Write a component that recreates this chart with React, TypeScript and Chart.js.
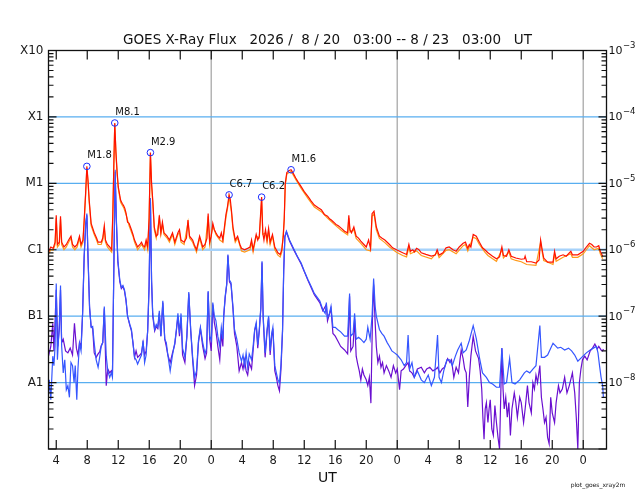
import { useEffect, useRef } from "react";
import { Chart, registerables } from "chart.js";

Chart.register(...registerables);

// time axis: hours since 2026/8/20 03:00 UT
const START_HOUR = 3;
const SPAN_HOURS = 72;
const hourTicks = [1, 5, 9, 13, 17, 21, 25, 29, 33, 37, 41, 45, 49, 53, 57, 61, 65, 69];
const dayBoundaryHours = [21, 45, 69];

const decadeTicks = [1e-9, 1e-8, 1e-7, 1e-6, 1e-5, 1e-4, 1e-3];
const classLabels = ["", "A1", "B1", "C1", "M1", "X1", "X10"];
const exponentLabels = ["", "-8", "-7", "-6", "-5", "-4", "-3"];
const classLines = [1e-8, 1e-7, 1e-6, 1e-5, 1e-4];

const titleText = "GOES X-Ray Flux   2026 /  8 / 20   03:00 -- 8 / 23   03:00   UT";

// [hour, W/m^2] long channel (1-8 A), primary
const longPrimary: [number, number][] = [
  [0.0, 9.3e-7], [0.3, 1.1e-6], [0.6, 1.05e-6], [0.85, 1.3e-6], [1.0, 3.3e-6], [1.15, 1.2e-6], [1.4, 1.3e-6], [1.55, 3.2e-6], [1.7, 1.3e-6], [2.0, 1.1e-6],
  [2.3, 1.2e-6], [2.6, 1.4e-6], [2.9, 1.6e-6], [3.1, 1.2e-6], [3.4, 1.1e-6], [3.7, 1.2e-6], [4.0, 1.6e-6], [4.2, 1.2e-6], [4.45, 1.4e-6], [4.62, 3.0e-6],
  [4.8, 7.5e-6], [4.95, 1.8e-5], [5.1, 1.1e-5], [5.25, 5.6e-6], [5.5, 2.5e-6], [5.9, 1.8e-6], [6.2, 1.5e-6], [6.4, 1.3e-6], [6.8, 1.3e-6], [7.0, 1.5e-6],
  [7.2, 2.3e-6], [7.35, 1.4e-6], [7.6, 1.2e-6], [7.9, 1.1e-6], [8.15, 1.0e-6], [8.3, 3.5e-6], [8.45, 2.5e-5], [8.55, 8.1e-5], [8.7, 3.0e-5], [8.85, 1.5e-5],
  [9.0, 8.9e-6], [9.3, 5.6e-6], [9.5, 5.0e-6], [9.7, 4.6e-6], [9.85, 4.2e-6], [10.0, 3.6e-6], [10.2, 2.6e-6], [10.4, 2.5e-6], [10.7, 2.0e-6], [10.9, 1.7e-6],
  [11.1, 1.4e-6], [11.5, 1.1e-6], [11.8, 1.2e-6], [12.0, 1.3e-6], [12.2, 1.15e-6], [12.4, 1.1e-6], [12.6, 1.4e-6], [12.8, 1.1e-6], [12.98, 3.0e-6], [13.15, 2.9e-5],
  [13.3, 1.0e-5], [13.45, 5.6e-6], [13.65, 2.2e-6], [13.9, 1.6e-6], [14.1, 1.7e-6], [14.3, 3.3e-6], [14.5, 1.8e-6], [14.7, 2.6e-6], [14.9, 1.8e-6], [15.1, 1.7e-6],
  [15.3, 1.6e-6], [15.6, 1.4e-6], [16.0, 1.8e-6], [16.3, 1.3e-6], [16.7, 1.8e-6], [16.9, 2.0e-6], [17.1, 1.4e-6], [17.5, 1.3e-6], [17.8, 1.5e-6], [18.0, 2.8e-6],
  [18.2, 1.6e-6], [18.6, 1.4e-6], [18.8, 1.2e-6], [19.1, 1.0e-6], [19.5, 1.6e-6], [19.9, 1.1e-6], [20.2, 1.2e-6], [20.45, 1.5e-6], [20.6, 3.5e-6], [20.8, 1.3e-6],
  [21.0, 1.6e-6], [21.2, 2.5e-6], [21.4, 2.0e-6], [21.6, 1.8e-6], [21.85, 1.6e-6], [22.1, 1.5e-6], [22.3, 1.8e-6], [22.5, 1.4e-6], [22.7, 2.2e-6], [22.9, 3.4e-6],
  [23.1, 4.5e-6], [23.3, 6.7e-6], [23.45, 5.8e-6], [23.6, 4.0e-6], [23.8, 2.2e-6], [24.1, 1.4e-6], [24.4, 1.6e-6], [24.7, 1.2e-6], [24.9, 1.05e-6], [25.3, 1.0e-6],
  [25.7, 1.05e-6], [26.0, 1.1e-6], [26.2, 1.4e-6], [26.4, 1.0e-6], [26.8, 1.7e-6], [27.0, 1.4e-6], [27.2, 1.6e-6], [27.35, 3.2e-6], [27.5, 6.2e-6], [27.65, 1.8e-6],
  [27.8, 1.4e-6], [28.0, 2.0e-6], [28.2, 1.4e-6], [28.4, 2.1e-6], [28.6, 1.3e-6], [28.9, 1.7e-6], [29.2, 1.1e-6], [29.6, 9.0e-7], [29.9, 8.5e-7], [30.1, 1.0e-6],
  [30.3, 1.6e-6], [30.42, 3.0e-6], [30.55, 1.0e-5], [30.75, 1.45e-5], [31.0, 1.55e-5], [31.3, 1.6e-5], [31.6, 1.4e-5], [31.9, 1.2e-5], [32.2, 1.05e-5], [32.6, 8.9e-6],
  [33.0, 7.5e-6], [33.5, 6.3e-6], [33.9, 5.4e-6], [34.3, 4.7e-6], [34.8, 4.3e-6], [35.2, 4.0e-6], [35.6, 3.4e-6], [36.0, 3.2e-6], [36.3, 2.9e-6], [36.5, 2.8e-6],
  [36.8, 2.6e-6], [37.1, 2.4e-6], [37.4, 2.3e-6], [37.8, 2.1e-6], [38.2, 1.9e-6], [38.6, 1.8e-6], [38.75, 3.3e-6], [38.9, 2.0e-6], [39.1, 1.8e-6], [39.4, 2.2e-6],
  [39.7, 1.6e-6], [40.0, 1.5e-6], [40.3, 1.35e-6], [40.7, 1.2e-6], [41.0, 1.1e-6], [41.3, 1.4e-6], [41.55, 1.05e-6], [41.75, 3.5e-6], [42.0, 3.8e-6], [42.3, 2.2e-6],
  [42.7, 1.6e-6], [43.0, 1.5e-6], [43.4, 1.4e-6], [44.0, 1.2e-6], [44.4, 1.07e-6], [44.9, 1.0e-6], [45.3, 9.5e-7], [45.7, 9.0e-7], [46.2, 8.5e-7], [46.5, 1.2e-6],
  [46.7, 9.5e-7], [47.0, 1.0e-6], [47.2, 9.3e-7], [47.5, 1.05e-6], [47.8, 1.0e-6], [48.1, 9.0e-7], [48.7, 8.5e-7], [49.4, 8.0e-7], [49.9, 8.3e-7], [50.15, 1.0e-6],
  [50.4, 8.3e-7], [50.9, 9.0e-7], [51.3, 1.07e-6], [51.7, 1.1e-6], [52.2, 1.0e-6], [52.6, 9.5e-7], [53.0, 1.1e-6], [53.5, 1.25e-6], [53.8, 1.3e-6], [54.1, 1.05e-6],
  [54.3, 1.2e-6], [54.5, 1.1e-6], [54.8, 1.7e-6], [55.2, 1.6e-6], [55.6, 1.3e-6], [56.0, 1.07e-6], [56.3, 1.0e-6], [56.7, 9.0e-7], [57.3, 8.0e-7], [57.8, 7.3e-7],
  [58.2, 7.8e-7], [58.5, 1.1e-6], [58.7, 8.2e-7], [59.1, 8.0e-7], [59.4, 1.0e-6], [59.7, 8.0e-7], [60.3, 7.5e-7], [61.0, 7.2e-7], [61.4, 7.3e-7], [61.5, 8.0e-7],
  [61.7, 6.6e-7], [62.3, 6.6e-7], [62.9, 6.3e-7], [63.3, 7.0e-7], [63.5, 1.4e-6], [63.7, 1.0e-6], [63.9, 7.5e-7], [64.4, 6.5e-7], [65.1, 6.5e-7], [65.3, 9.5e-7],
  [65.5, 7.3e-7], [65.9, 8.0e-7], [66.4, 8.4e-7], [66.8, 8.0e-7], [67.4, 9.5e-7], [67.6, 8.4e-7], [68.3, 8.4e-7], [69.0, 9.5e-7], [69.4, 1.1e-6], [69.8, 1.25e-6],
  [70.1, 1.2e-6], [70.4, 1.1e-6], [70.7, 1.1e-6], [71.0, 1.15e-6], [71.2, 9.5e-7], [71.5, 8.0e-7],
];

// long channel, secondary satellite
const longSecondary: [number, number][] = [
  [0, 8.7e-7], [0.3, 1.0e-6], [0.6, 9.8e-7], [0.85, 1.2e-6], [1.0, 3.0e-6], [1.15, 1.1e-6], [1.4, 1.2e-6], [1.55, 2.9e-6], [1.7, 1.2e-6], [2.0, 1.0e-6],
  [2.3, 1.1e-6], [2.6, 1.3e-6], [2.9, 1.5e-6], [3.1, 1.1e-6], [3.4, 1.0e-6], [3.7, 1.1e-6], [4.0, 1.5e-6], [4.2, 1.1e-6], [4.45, 1.3e-6], [4.62, 2.8e-6],
  [4.8, 7.0e-6], [4.95, 1.7e-5], [5.1, 1.05e-5], [5.25, 5.2e-6], [5.5, 2.3e-6], [5.9, 1.7e-6], [6.2, 1.4e-6], [6.4, 1.2e-6], [6.8, 1.2e-6], [7.0, 1.4e-6],
  [7.2, 2.1e-6], [7.35, 1.3e-6], [7.6, 1.1e-6], [7.9, 1.0e-6], [8.15, 9.2e-7], [8.3, 3.2e-6], [8.45, 2.3e-5], [8.55, 7.8e-5], [8.7, 2.8e-5], [8.85, 1.4e-5],
  [9.0, 8.4e-6], [9.3, 5.2e-6], [9.7, 4.3e-6], [10.0, 3.4e-6], [10.4, 2.3e-6], [10.9, 1.6e-6], [11.1, 1.3e-6], [11.5, 1.0e-6], [12.0, 1.2e-6], [12.4, 1.0e-6],
  [12.6, 1.3e-6], [12.8, 1.0e-6], [12.98, 2.8e-6], [13.15, 2.8e-5], [13.3, 9.4e-6], [13.45, 5.2e-6], [13.65, 2.0e-6], [13.9, 1.5e-6], [14.3, 3.0e-6], [14.5, 1.7e-6],
  [14.7, 2.4e-6], [14.9, 1.7e-6], [15.3, 1.5e-6], [15.6, 1.3e-6], [16.0, 1.7e-6], [16.3, 1.2e-6], [16.7, 1.7e-6], [16.9, 1.8e-6], [17.1, 1.3e-6], [17.5, 1.2e-6],
  [18.0, 2.6e-6], [18.2, 1.5e-6], [18.6, 1.3e-6], [19.1, 9.2e-7], [19.5, 1.5e-6], [19.9, 1.0e-6], [20.2, 1.1e-6], [20.6, 3.2e-6], [20.8, 1.2e-6], [21.2, 2.3e-6],
  [21.6, 1.7e-6], [22.1, 1.4e-6], [22.5, 1.3e-6], [22.9, 3.1e-6], [23.1, 4.2e-6], [23.3, 6.3e-6], [23.6, 3.7e-6], [23.8, 2.0e-6], [24.1, 1.3e-6], [24.4, 1.5e-6],
  [24.9, 9.6e-7], [25.3, 9.2e-7], [26.0, 1.0e-6], [26.2, 1.3e-6], [26.4, 9.3e-7], [26.8, 1.6e-6], [27.2, 1.5e-6], [27.5, 5.8e-6], [27.65, 1.7e-6], [28.0, 1.8e-6],
  [28.2, 1.3e-6], [28.4, 1.9e-6], [28.6, 1.2e-6], [28.9, 1.6e-6], [29.2, 1.0e-6], [29.6, 8.3e-7], [29.9, 7.8e-7], [30.1, 9.2e-7], [30.42, 2.8e-6], [30.55, 9.4e-6],
  [30.75, 1.38e-5], [31.3, 1.52e-5], [31.9, 1.14e-5], [32.6, 8.4e-6], [33.5, 5.9e-6], [34.3, 4.4e-6], [35.2, 3.75e-6], [36.0, 3.0e-6], [36.8, 2.45e-6], [37.8, 1.95e-6],
  [38.6, 1.68e-6], [38.75, 3.0e-6], [38.9, 1.85e-6], [39.4, 2.0e-6], [39.7, 1.48e-6], [40.3, 1.25e-6], [41.0, 1.0e-6], [41.55, 9.6e-7], [41.75, 3.2e-6], [42.0, 3.5e-6],
  [42.3, 2.0e-6], [42.7, 1.48e-6], [43.4, 1.28e-6], [44.0, 1.1e-6], [44.9, 9.2e-7], [45.7, 8.2e-7], [46.2, 7.8e-7], [46.5, 1.1e-6], [46.7, 8.7e-7], [47.5, 9.6e-7],
  [48.1, 8.2e-7], [49.4, 7.3e-7], [50.15, 9.2e-7], [50.4, 7.6e-7], [51.3, 9.8e-7], [51.7, 1.0e-6], [52.6, 8.7e-7], [53.5, 1.15e-6], [53.8, 1.2e-6], [54.1, 9.6e-7],
  [54.8, 1.55e-6], [55.2, 1.47e-6], [55.6, 1.2e-6], [56.3, 9.2e-7], [56.7, 8.2e-7], [57.3, 7.3e-7], [57.8, 6.7e-7], [58.5, 1.0e-6], [58.7, 7.5e-7], [59.4, 9.2e-7],
  [59.7, 7.3e-7], [60.3, 6.9e-7], [61.0, 6.6e-7], [61.7, 6.0e-7], [62.9, 5.8e-7], [63.5, 1.3e-6], [63.7, 9.2e-7], [63.9, 6.9e-7], [65.1, 6.0e-7], [65.3, 8.7e-7],
  [65.5, 6.7e-7], [66.4, 7.7e-7], [67.4, 8.7e-7], [67.6, 7.7e-7], [68.3, 7.7e-7], [69.0, 8.7e-7], [69.4, 1.0e-6], [69.8, 1.15e-6], [70.4, 1.0e-6], [71.0, 1.05e-6],
  [71.2, 8.7e-7], [71.5, 7.3e-7],
];

// short channel (0.5-4 A), primary
const shortPrimary: [number, number][] = [
  [0.0, 7e-9], [0.1, 1.1e-8], [0.3, 5.5e-9], [0.55, 2.5e-8], [0.7, 1.8e-8], [0.85, 3.5e-8], [1.0, 3.1e-7], [1.15, 2.2e-8], [1.4, 7.8e-8], [1.55, 2.9e-7],
  [1.7, 3.5e-8], [1.9, 1.4e-8], [2.1, 2.2e-8], [2.3, 7.8e-9], [2.5, 9e-9], [2.7, 6e-9], [2.9, 2e-8], [3.1, 1.8e-8], [3.3, 1.0e-8], [3.45, 1.8e-8],
  [3.65, 5.5e-9], [3.8, 1.6e-8], [4.0, 3.9e-8], [4.2, 3.0e-8], [4.4, 1.1e-7], [4.6, 8e-7], [4.8, 2.5e-6], [4.95, 3.5e-6], [5.1, 8e-7], [5.3, 1.4e-7],
  [5.5, 6.8e-8], [5.7, 7e-8], [5.9, 3.9e-8], [6.15, 2.2e-8], [6.4, 1.7e-8], [6.6, 2.4e-8], [6.8, 3.5e-8], [7.0, 4e-8], [7.2, 1.4e-7], [7.45, 2.5e-8],
  [7.65, 1.5e-8], [7.9, 1.2e-8], [8.1, 1.4e-8], [8.25, 1.2e-8], [8.45, 8e-7], [8.6, 1.6e-5], [8.75, 3e-6], [8.95, 7e-7], [9.2, 3.5e-7], [9.4, 2.7e-7],
  [9.6, 2.9e-7], [9.8, 2.5e-7], [10.0, 1.8e-7], [10.2, 1.0e-7], [10.5, 7.5e-8], [10.7, 6.3e-8], [10.9, 3.9e-8], [11.1, 2.4e-8], [11.3, 2.2e-8], [11.5, 1.9e-8],
  [11.8, 2.3e-8], [12.0, 2.6e-8], [12.2, 4.3e-8], [12.4, 2.0e-8], [12.6, 2.6e-8], [12.8, 6.3e-8], [12.98, 3e-7], [13.15, 6e-6], [13.3, 3.5e-7], [13.45, 1.1e-7],
  [13.7, 6.3e-8], [13.9, 7.5e-8], [14.1, 6.8e-8], [14.3, 1.2e-7], [14.5, 5e-8], [14.75, 1.7e-7], [15.0, 4.5e-8], [15.2, 4.0e-8], [15.4, 2.6e-8], [15.7, 1.5e-8],
  [16.0, 2.6e-8], [16.3, 4.0e-8], [16.5, 6.3e-8], [16.7, 1.1e-7], [16.9, 5.5e-8], [17.1, 1.1e-7], [17.3, 3.3e-8], [17.6, 2.4e-8], [17.85, 5e-8], [18.1, 2.3e-7],
  [18.35, 6.3e-8], [18.6, 2.4e-8], [18.85, 1.2e-8], [19.1, 1.5e-8], [19.35, 4.3e-8], [19.6, 6.8e-8], [19.9, 4.0e-8], [20.2, 2.7e-8], [20.4, 3.3e-8], [20.6, 2.4e-7],
  [20.8, 5e-8], [21.0, 4.3e-8], [21.2, 1.6e-7], [21.4, 1.0e-7], [21.6, 8.6e-8], [21.85, 5e-8], [22.1, 3.5e-8], [22.3, 6.8e-8], [22.5, 4.5e-8], [22.6, 1.0e-7],
  [22.8, 2.0e-7], [23.0, 3.1e-7], [23.15, 8.5e-7], [23.35, 3.5e-7], [23.55, 3.2e-7], [23.8, 1.4e-7], [24.0, 6.3e-8], [24.3, 4.5e-8], [24.6, 2.8e-8], [24.9, 2.1e-8],
  [25.1, 2.6e-8], [25.3, 1.8e-8], [25.5, 2.8e-8], [25.7, 1.7e-8], [25.9, 2.7e-8], [26.2, 2.2e-8], [26.4, 3.5e-8], [26.6, 6.3e-8], [26.8, 8e-8], [27.0, 3.7e-8],
  [27.2, 6.3e-8], [27.4, 1.4e-7], [27.55, 6.7e-7], [27.7, 1.0e-7], [27.95, 2.8e-8], [28.2, 6.3e-8], [28.4, 1.0e-7], [28.6, 3.0e-8], [28.8, 5.5e-8], [28.95, 6.8e-8],
  [29.2, 1.8e-8], [29.4, 1.4e-8], [29.6, 1.1e-8], [29.8, 1.0e-8], [30.0, 1.9e-8], [30.2, 6.3e-8], [30.35, 5e-7], [30.5, 1.6e-6], [30.7, 1.9e-6], [31.1, 1.4e-6],
  [31.7, 1.0e-6], [32.1, 8e-7], [32.6, 6.3e-7], [33.0, 4.8e-7], [33.5, 3.5e-7], [33.9, 2.8e-7], [34.3, 2.2e-7], [34.7, 1.9e-7], [35.0, 1.7e-7], [35.4, 1.25e-7],
  [35.7, 1.1e-7], [35.85, 1.6e-7], [36.0, 9.5e-8], [36.25, 1.1e-7], [36.45, 1.4e-7], [36.7, 6.8e-8], [37.0, 6.8e-8], [37.3, 6.3e-8], [37.7, 5.8e-8], [38.2, 5.0e-8],
  [38.6, 5.0e-8], [38.85, 2.2e-7], [39.0, 5.0e-8], [39.3, 5.5e-8], [39.5, 1.1e-7], [39.7, 4.5e-8], [40.0, 4.8e-8], [40.3, 4.5e-8], [40.7, 4.0e-8], [41.0, 4.5e-8],
  [41.2, 6.8e-8], [41.5, 4.5e-8], [41.75, 1.0e-7], [41.95, 3.7e-7], [42.15, 1.4e-7], [42.3, 1.0e-7], [42.7, 6.3e-8], [43.0, 5.5e-8], [43.3, 5.0e-8], [43.7, 4.0e-8],
  [44.0, 3.5e-8], [44.3, 3.0e-8], [44.65, 2.8e-8], [45.0, 2.6e-8], [45.5, 2.2e-8], [45.9, 1.8e-8], [46.2, 2.0e-8], [46.4, 5.2e-8], [46.6, 1.6e-8], [46.9, 2.0e-8],
  [47.2, 1.2e-8], [47.6, 1.5e-8], [48.1, 1.1e-8], [48.5, 1.0e-8], [49.0, 1.3e-8], [49.4, 9e-9], [49.8, 1.2e-8], [50.2, 5.2e-8], [50.4, 1.2e-8], [50.7, 1.0e-8],
  [51.0, 1.5e-8], [51.4, 2.2e-8], [51.8, 2.2e-8], [52.1, 1.8e-8], [52.5, 2.5e-8], [52.8, 3.1e-8], [53.25, 3.9e-8], [53.5, 2.8e-8], [53.9, 3.1e-8], [54.3, 4.3e-8],
  [54.8, 7.2e-8], [55.2, 4.6e-8], [55.6, 2.4e-8], [56.0, 1.4e-8], [56.5, 1.2e-8], [56.9, 1.0e-8], [57.3, 9.5e-9], [57.8, 8.5e-9], [58.2, 8.5e-9], [58.5, 3.3e-8],
  [58.8, 9.5e-9], [59.1, 1.0e-8], [59.5, 2.3e-8], [59.8, 1.0e-8], [60.2, 9.5e-9], [60.8, 1.1e-8], [61.4, 1.4e-8], [61.7, 1.5e-8], [62.1, 1.4e-8], [62.5, 1.6e-8],
  [62.9, 1.8e-8], [63.4, 7.2e-8], [63.6, 2.4e-8], [64.0, 2.4e-8], [64.4, 2.6e-8], [64.8, 3.3e-8], [65.1, 3.9e-8], [65.4, 3.6e-8], [65.7, 3.3e-8], [66.1, 3.4e-8],
  [66.6, 3.1e-8], [67.1, 3.3e-8], [67.5, 3.0e-8], [67.9, 2.6e-8], [68.3, 2.1e-8], [68.8, 2.4e-8], [69.4, 2.8e-8], [69.9, 3.1e-8], [70.3, 3.3e-8], [70.7, 3.5e-8],
  [70.9, 2.8e-8], [71.1, 1.8e-8], [71.3, 1.2e-8], [71.5, 9e-9], [71.6, 6e-9],
];

// short channel, secondary satellite
const shortSecondary: [number, number][] = [
  [0.0, 2.5e-8], [0.3, 3.5e-8], [0.55, 7.8e-8], [0.7, 3.0e-8], [1.0, 2.5e-7], [1.2, 3.5e-8], [1.4, 6.5e-8], [1.55, 2.5e-7], [1.7, 4.0e-8], [1.9, 4.5e-8],
  [2.2, 3.0e-8], [2.5, 2.8e-8], [2.8, 3.3e-8], [3.1, 2.6e-8], [3.35, 7.8e-8], [3.6, 3.3e-8], [3.8, 2.6e-8], [4.0, 4.0e-8], [4.2, 3.5e-8], [4.4, 1.1e-7],
  [4.6, 7.5e-7], [4.8, 2.4e-6], [4.95, 3.3e-6], [5.1, 7.5e-7], [5.3, 1.3e-7], [5.5, 7e-8], [5.7, 6.5e-8], [5.9, 2.8e-8], [6.15, 2.4e-8], [6.4, 2.7e-8],
  [6.6, 2.9e-8], [6.8, 3.6e-8], [7.0, 4.0e-8], [7.2, 1.3e-7], [7.45, 9e-9], [7.65, 1.6e-8], [7.9, 1.4e-8], [8.1, 1.5e-8], [8.25, 1.3e-8], [8.45, 7.5e-7],
  [8.6, 1.5e-5], [8.75, 2.8e-6], [8.95, 6.5e-7], [9.2, 3.3e-7], [9.4, 2.6e-7], [9.6, 2.8e-7], [9.8, 2.4e-7], [10.0, 1.7e-7], [10.2, 1.0e-7], [10.5, 7.2e-8],
  [10.7, 6.0e-8], [10.9, 4.0e-8], [11.1, 2.4e-8], [11.3, 3.0e-8], [11.5, 2.4e-8], [11.8, 2.6e-8], [12.0, 2.8e-8], [12.2, 4.0e-8], [12.4, 2.6e-8], [12.6, 3.0e-8],
  [12.8, 6.0e-8], [12.98, 2.8e-7], [13.15, 5.6e-6], [13.3, 3.3e-7], [13.45, 1.0e-7], [13.7, 6.0e-8], [13.9, 7.0e-8], [14.1, 6.5e-8], [14.3, 1.1e-7], [14.5, 5.0e-8],
  [14.75, 1.6e-7], [15.0, 4.5e-8], [15.2, 3.5e-8], [15.4, 2.6e-8], [15.7, 2.0e-8], [16.0, 2.8e-8], [16.3, 3.8e-8], [16.5, 6.0e-8], [16.7, 1.0e-7], [16.9, 5.0e-8],
  [17.1, 9.5e-8], [17.3, 2.6e-8], [17.6, 2.0e-8], [17.85, 4.8e-8], [18.1, 2.2e-7], [18.35, 6.0e-8], [18.6, 2.2e-8], [18.85, 9e-9], [19.1, 1.3e-8], [19.35, 4.0e-8],
  [19.6, 6.5e-8], [19.9, 3.5e-8], [20.2, 2.3e-8], [20.4, 2.8e-8], [20.6, 2.3e-7], [20.8, 4.5e-8], [21.0, 3.0e-8], [21.2, 1.5e-7], [21.4, 8e-8], [21.6, 6e-8],
  [21.85, 3.5e-8], [22.1, 2.2e-8], [22.3, 5.5e-8], [22.5, 3.5e-8], [22.6, 9.5e-8], [22.8, 1.9e-7], [23.0, 3.0e-7], [23.15, 8.2e-7], [23.35, 3.3e-7], [23.55, 3.0e-7],
  [23.8, 1.3e-7], [24.0, 5.5e-8], [24.3, 3.5e-8], [24.6, 1.5e-8], [24.9, 2.0e-8], [25.1, 1.6e-8], [25.3, 2.2e-8], [25.5, 1.5e-8], [25.7, 1.3e-8], [25.9, 2.0e-8],
  [26.2, 1.6e-8], [26.4, 3.0e-8], [26.6, 6.0e-8], [26.8, 7.5e-8], [27.0, 3.3e-8], [27.2, 6.0e-8], [27.4, 1.3e-7], [27.55, 6.4e-7], [27.7, 9.5e-8], [27.95, 2.4e-8],
  [28.2, 5.8e-8], [28.4, 9.5e-8], [28.6, 2.6e-8], [28.8, 5.0e-8], [28.95, 6.5e-8], [29.2, 1.5e-8], [29.4, 1.2e-8], [29.6, 9e-9], [29.8, 7.5e-9], [30.0, 1.6e-8],
  [30.2, 6.0e-8], [30.35, 4.8e-7], [30.5, 1.55e-6], [30.7, 1.85e-6], [31.1, 1.35e-6], [31.7, 9.7e-7], [32.6, 6.1e-7], [33.5, 3.4e-7], [34.3, 2.1e-7], [35.0, 1.6e-7],
  [35.4, 1.2e-7], [35.85, 1.5e-7], [36.0, 8.5e-8], [36.45, 1.3e-7], [36.7, 5.5e-8], [37.0, 5.0e-8], [37.3, 4.3e-8], [37.7, 3.5e-8], [38.2, 3.1e-8], [38.6, 2.7e-8],
  [38.85, 2.0e-7], [39.0, 3.0e-8], [39.3, 3.5e-8], [39.5, 9.0e-8], [39.7, 2.5e-8], [39.9, 1.9e-8], [40.1, 1.5e-8], [40.3, 1.1e-8], [40.5, 1.6e-8], [40.7, 1.3e-8],
  [41.0, 1.1e-8], [41.2, 9e-9], [41.4, 1.2e-8], [41.6, 4.9e-9], [41.8, 9e-8], [41.95, 3.0e-7], [42.15, 8e-8], [42.3, 3.5e-8], [42.5, 2.0e-8], [42.7, 2.5e-8],
  [42.9, 1.7e-8], [43.1, 2.0e-8], [43.3, 1.4e-8], [43.6, 1.8e-8], [43.9, 1.5e-8], [44.2, 1.2e-8], [44.5, 1.8e-8], [44.8, 1.4e-8], [45.0, 1.6e-8], [45.3, 7.8e-9],
  [45.5, 1.5e-8], [45.8, 1.6e-8], [46.1, 1.8e-8], [46.4, 2.0e-8], [46.6, 1.5e-8], [46.9, 1.4e-8], [47.2, 1.2e-8], [47.6, 1.6e-8], [48.1, 1.7e-8], [48.5, 1.4e-8],
  [48.8, 1.6e-8], [49.2, 1.7e-8], [49.6, 1.5e-8], [50.0, 1.6e-8], [50.2, 1.7e-8], [50.5, 1.4e-8], [50.8, 1.6e-8], [51.1, 1.7e-8], [51.5, 2.3e-8], [51.8, 2.0e-8],
  [52.0, 2.2e-8], [52.3, 1.2e-8], [52.6, 1.7e-8], [52.9, 1.4e-8], [53.25, 3.1e-8], [53.5, 2.3e-8], [53.7, 1.6e-8], [53.9, 1.4e-8], [54.1, 4.3e-9], [54.3, 1.2e-8],
  [54.5, 2.5e-8], [54.8, 5.0e-8], [55.1, 3.0e-8], [55.5, 2.3e-8], [55.7, 1.5e-8], [55.9, 8e-9], [56.05, 3e-9], [56.2, 1.4e-9], [56.35, 4e-9], [56.5, 5e-9],
  [56.7, 2.5e-9], [56.85, 4e-9], [57.0, 5.5e-9], [57.2, 2.0e-9], [57.4, 1.6e-9], [57.6, 4.5e-9], [57.8, 2.5e-9], [58.0, 1.5e-9], [58.2, 1.0e-9], [58.35, 6e-9],
  [58.5, 3.3e-8], [58.65, 8e-9], [58.8, 4e-9], [59.0, 6e-9], [59.2, 3e-9], [59.4, 5e-9], [59.6, 1.6e-9], [59.8, 4e-9], [60.1, 7e-9], [60.3, 5e-9],
  [60.5, 3e-9], [60.8, 6e-9], [61.0, 5e-9], [61.3, 2.5e-9], [61.5, 4e-9], [61.8, 9e-9], [62.0, 5e-9], [62.3, 3.5e-9], [62.5, 1.0e-8], [62.7, 8e-9],
  [62.9, 1.3e-8], [63.1, 1.0e-8], [63.4, 1.8e-8], [63.6, 6e-9], [63.8, 4e-9], [64.0, 2.5e-9], [64.2, 3e-9], [64.4, 1.5e-9], [64.6, 1.2e-9], [64.8, 6e-9],
  [65.0, 3.5e-9], [65.3, 2.5e-9], [65.5, 5e-9], [65.8, 9e-9], [66.0, 7e-9], [66.3, 8e-9], [66.6, 1.2e-8], [66.9, 7e-9], [67.2, 9e-9], [67.6, 1.4e-8],
  [67.9, 7e-9], [68.1, 3e-9], [68.3, 1.0e-9], [68.5, 1.0e-8], [68.7, 1.6e-8], [68.9, 2.2e-8], [69.2, 2.5e-8], [69.5, 2.2e-8], [69.9, 3.0e-8], [70.2, 3.3e-8],
  [70.5, 3.8e-8], [70.8, 3.2e-8], [71.0, 3.5e-8], [71.3, 3.1e-8], [71.5, 3.0e-8], [71.6, 3.2e-8],
];

// flare peaks marked on the long channel
const flareHours = [4.95, 8.55, 13.15, 23.3, 27.5, 31.3];
const flareFlux = [1.8e-5, 8.1e-5, 2.9e-5, 6.7e-6, 6.2e-6, 1.6e-5];
const flareLabels = ["M1.8", "M8.1", "M2.9", "C6.7", "C6.2", "M1.6"];

const FONT = '"DejaVu Sans", sans-serif';

const toPoints = (rows: [number, number][]) => rows.map(([x, y]) => ({ x, y }));

const goesDecor = {
  id: "goesDecor",
  beforeDatasetsDraw(chart: any) {
    const { ctx, chartArea: a } = chart;
    const xs = chart.scales.x;
    const ys = chart.scales.y;
    ctx.save();
    ctx.strokeStyle = "#b4b4b4";
    ctx.lineWidth = 1.5;
    for (const h of dayBoundaryHours) {
      const px = xs.getPixelForValue(h);
      ctx.beginPath();
      ctx.moveTo(px, a.top);
      ctx.lineTo(px, a.bottom);
      ctx.stroke();
    }
    for (const v of classLines) {
      const py = ys.getPixelForValue(v);
      const isC = v === 1e-6;
      ctx.strokeStyle = isC ? "#a6d2fa" : "#58aef0";
      ctx.lineWidth = isC ? 2.4 : 1.2;
      ctx.beginPath();
      ctx.moveTo(a.left, py);
      ctx.lineTo(a.right, py);
      ctx.stroke();
    }
    ctx.restore();
  },
  afterDatasetsDraw(chart: any) {
    const { ctx, chartArea: a } = chart;
    const xs = chart.scales.x;
    const ys = chart.scales.y;
    ctx.save();
    ctx.strokeStyle = "#111";
    ctx.lineWidth = 1.3;
    ctx.strokeRect(a.left, a.top, a.right - a.left, a.bottom - a.top);

    ctx.lineWidth = 1.2;
    ctx.beginPath();
    for (const h of hourTicks) {
      const px = xs.getPixelForValue(h);
      ctx.moveTo(px, a.bottom);
      ctx.lineTo(px, a.bottom - 9);
      ctx.moveTo(px, a.top);
      ctx.lineTo(px, a.top + 9);
    }
    for (let i = 0; i < decadeTicks.length; i++) {
      const d = decadeTicks[i];
      const py = ys.getPixelForValue(d);
      ctx.moveTo(a.left, py);
      ctx.lineTo(a.left + 8, py);
      ctx.moveTo(a.right, py);
      ctx.lineTo(a.right - 8, py);
      if (i === decadeTicks.length - 1) continue;
      for (let m = 2; m <= 9; m++) {
        const pm = ys.getPixelForValue(m * d);
        ctx.moveTo(a.left, pm);
        ctx.lineTo(a.left + 5, pm);
        ctx.moveTo(a.right, pm);
        ctx.lineTo(a.right - 5, pm);
      }
    }
    ctx.stroke();

    // flare labels
    const meta = chart.getDatasetMeta(0);
    ctx.fillStyle = "#111";
    ctx.font = `10px ${FONT}`;
    ctx.textAlign = "left";
    ctx.textBaseline = "alphabetic";
    meta.data.forEach((pt: any, i: number) => {
      ctx.fillText(flareLabels[i], pt.x + 0.5, pt.y - 8);
    });

    // right axis powers of ten
    ctx.textBaseline = "middle";
    for (let i = 1; i < decadeTicks.length; i++) {
      const py = ys.getPixelForValue(decadeTicks[i]);
      ctx.font = `11px ${FONT}`;
      const x0 = a.right + 2;
      ctx.fillText("10", x0, py + 0.5);
      const w = ctx.measureText("10").width;
      ctx.font = `8.5px ${FONT}`;
      ctx.fillText(exponentLabels[i].replace("-", "\u2212"), x0 + w + 0.5, py - 5);
    }

    // title, axis name, footer
    const cx = (a.left + a.right) / 2;
    ctx.textAlign = "center";
    ctx.textBaseline = "alphabetic";
    ctx.font = `13.5px ${FONT}`;
    ctx.fillText(titleText, cx, 44);
    ctx.font = `14px ${FONT}`;
    ctx.fillText("UT", cx, 482);
    ctx.font = `6px ${FONT}`;
    ctx.fillText("plot_goes_xray2m", 598, 487);
    ctx.restore();
  },
};

export default function App() {
  const canvasRef = useRef<HTMLCanvasElement>(null);
  const chartRef = useRef<Chart | null>(null);

  useEffect(() => {
    if (!canvasRef.current) return;
    if (chartRef.current) chartRef.current.destroy();

    const line = (data: [number, number][], color: string, width: number, order: number) => ({
      type: "line" as const,
      data: toPoints(data),
      borderColor: color,
      borderWidth: width,
      pointRadius: 0,
      tension: 0,
      fill: false,
      order,
    });

    chartRef.current = new Chart(canvasRef.current, {
      type: "line",
      data: {
        datasets: [
          {
            type: "scatter",
            data: flareHours.map((h, i) => ({ x: h, y: flareFlux[i] })),
            showLine: false,
            pointRadius: 3.3,
            pointBorderWidth: 1,
            pointBorderColor: "#1a2cff",
            pointBackgroundColor: "rgba(0,0,0,0)",
            order: 0,
          } as any,
          line(longPrimary, "#ff1200", 1.2, 1),
          line(longSecondary, "#ff9a1a", 1.2, 2),
          line(shortPrimary, "#3556ff", 1.2, 3),
          line(shortSecondary, "#6a0fd0", 1.2, 4),
        ],
      },
      options: {
        animation: false,
        responsive: true,
        maintainAspectRatio: false,
        events: [],
        layout: { padding: { top: 50.5, right: 33.5, left: 0, bottom: 0 } },
        plugins: { legend: { display: false }, tooltip: { enabled: false }, title: { display: false } },
        scales: {
          x: {
            type: "linear",
            min: 0,
            max: SPAN_HOURS,
            grid: { display: false, drawTicks: false },
            border: { display: false },
            afterBuildTicks: (s: any) => {
              s.ticks = hourTicks.map((value) => ({ value }));
            },
            afterFit: (s: any) => {
              s.height = 51;
            },
            ticks: {
              autoSkip: false,
              maxRotation: 0,
              padding: 5,
              color: "#1a1a1a",
              font: { family: FONT, size: 11.5 },
              callback: (v: any) => String((Number(v) + START_HOUR) % 24),
            },
          },
          y: {
            type: "logarithmic",
            min: 1e-9,
            max: 1e-3,
            grid: { display: false, drawTicks: false },
            border: { display: false },
            afterBuildTicks: (s: any) => {
              s.ticks = decadeTicks.map((value) => ({ value }));
            },
            afterFit: (s: any) => {
              s.width = 48.5;
            },
            ticks: {
              autoSkip: false,
              padding: 5,
              color: "#1a1a1a",
              font: { family: FONT, size: 12 },
              callback: (v: any) => classLabels[Math.round(Math.log10(Number(v))) + 9] ?? "",
            },
          },
        },
      } as any,
      plugins: [goesDecor],
    });

    return () => {
      if (chartRef.current) {
        chartRef.current.destroy();
        chartRef.current = null;
      }
    };
  }, []);

  return (
    <div style={{ position: "absolute", left: 0, top: 0, width: 640, height: 500, background: "#fff" }}>
      <canvas ref={canvasRef} />
    </div>
  );
}
